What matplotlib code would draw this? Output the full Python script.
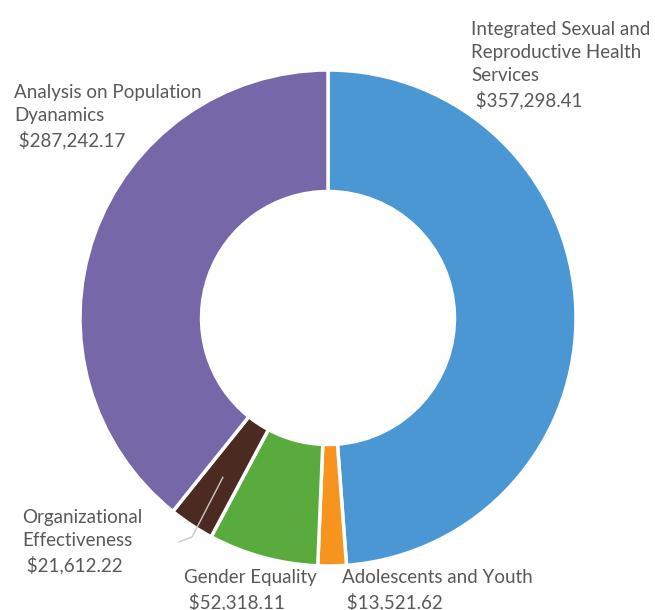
import matplotlib
matplotlib.use("Agg")
import matplotlib.pyplot as plt
import numpy as np

categories = ["Integrated Sexual and\nReproductive Health\nServices",
              "Adolescents and Youth",
              "Gender Equality",
              "Organizational\nEffectiveness",
              "Analysis on Population\nDyanamics"]
values = [357298.41, 13521.62, 52318.11, 21612.22, 287242.17]
value_labels = ["$357,298.41", "$13,521.62", "$52,318.11", "$21,612.22", "$287,242.17"]
colors = ["#4a97d4", "#f7941d", "#5aab3e", "#4b2a22", "#7567a8"]

plt.rcParams['font.family'] = ['Lato', 'DejaVu Sans']

W, H = 655, 610
fig = plt.figure(figsize=(W / 100, H / 100), dpi=100)
cx, cy, R = 328, 318, 248
ax = fig.add_axes([(cx - R) / W, (H - cy - R) / H, 2 * R / W, 2 * R / H])

wedges, _ = ax.pie(values, colors=colors, startangle=90, counterclock=False,
                   radius=1, wedgeprops=dict(width=0.49, edgecolor='white', linewidth=2.5))
ax.set_xlim(-1, 1)
ax.set_ylim(-1, 1)
ax.set_aspect('equal')
ax.axis('off')


def px(x, y):
    return ((x - cx) / R, (cy - y) / R)


text_color = "#595959"
fs = 13.5
ls = 1.42
# label positions (left edge, top) in pixels
label_pos = [(471, 21), (342, 569), (184, 569), (22, 509), (14, 84)]
for cat, vl, (lx, ly) in zip(categories, value_labels, label_pos):
    x, y = px(lx, ly)
    ax.text(x, y, cat + "\n " + vl, ha='left', va='top', fontsize=fs,
            color=text_color, linespacing=ls, clip_on=False)

# leader line for Organizational Effectiveness
cum = np.cumsum([0] + values)
total = cum[-1]
i = 3
mid = 90 - 360 * (cum[i] + values[i] / 2) / total
r = 0.77
p0 = (r * np.cos(np.radians(mid)), r * np.sin(np.radians(mid)))
p1 = px(192, 537)
p2 = px(179, 542)
ax.plot([p0[0], p1[0], p2[0]], [p0[1], p1[1], p2[1]], color="#c8c8c8", lw=1, clip_on=False)

fig.savefig("out.png", dpi=100)
